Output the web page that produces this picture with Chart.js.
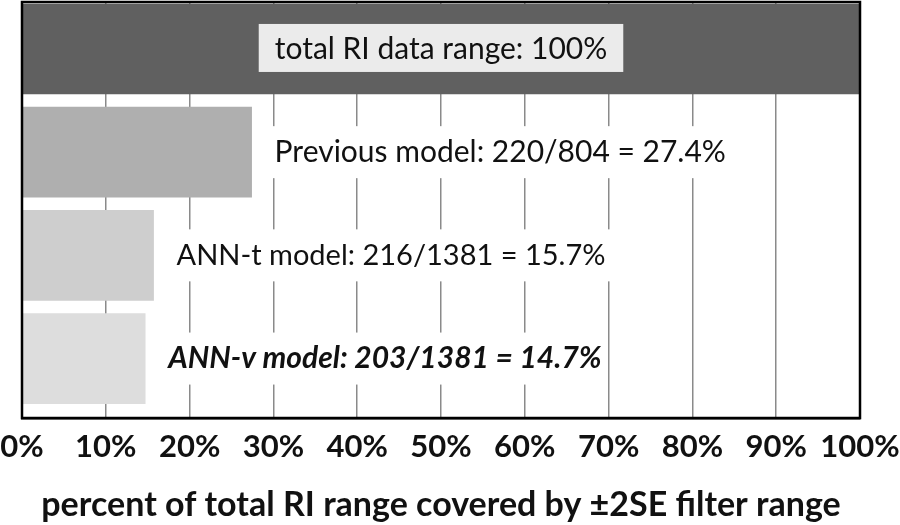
<!DOCTYPE html>
<html>
<head>
<meta charset="utf-8">
<script src="https://cdn.jsdelivr.net/npm/chart.js@4/dist/chart.umd.min.js"></script>
<style>
html,body{margin:0;padding:0;background:#fff;}
#wrap{width:900px;height:525px;position:relative;}
</style>
</head>
<body>
<div id="wrap"><canvas id="c" width="900" height="525"></canvas></div>
<script>
const categories = ['total RI data range', 'Previous model', 'ANN-t model', 'ANN-v model'];
const values = [100, 27.4, 15.7, 14.7];
const barLabels = ['total RI data range: 100%', 'Previous model: 220/804 = 27.4%', 'ANN-t model: 216/1381 = 15.7%', 'ANN-v model: 203/1381 = 14.7%'];
const xTickValues = [0, 10, 20, 30, 40, 50, 60, 70, 80, 90, 100];
const xTitle = 'percent of total RI range covered by \u00B12SE filter range';

const barColors = ['#606060', '#afafaf', '#cecece', '#dddddd'];
const labelFonts = ['30px', '30px', '29px', 'italic bold 30px'];
const FONT = 'Lato, "Open Sans", sans-serif';

const labelPlugin = {
  id: 'barLabels',
  afterDatasetsDraw(chart) {
    const ctx = chart.ctx;
    const meta = chart.getDatasetMeta(0);
    const xs = chart.scales.x;
    ctx.save();
    meta.data.forEach((bar, i) => {
      const cy = bar.y;
      ctx.font = labelFonts[i] + ' ' + FONT;
      const w = ctx.measureText(barLabels[i]).width;
      ctx.textBaseline = 'middle';
      if (i === 0) {
        const cx = (xs.getPixelForValue(0) + xs.getPixelForValue(values[0])) / 2;
        ctx.fillStyle = '#ebebeb';
        ctx.fillRect(cx - w / 2 - 16, cy - 25, w + 32, 48);
        ctx.fillStyle = '#111';
        ctx.textAlign = 'center';
        ctx.fillText(barLabels[i], cx, cy);
      } else {
        const x0 = xs.getPixelForValue(values[i]) + 23;
        ctx.fillStyle = '#fff';
        ctx.fillRect(x0 - 6, cy - 26, w + 12, 52);
        ctx.fillStyle = '#111';
        ctx.textAlign = 'left';
        ctx.fillText(barLabels[i], x0, cy);
      }
    });
    ctx.restore();
  },
  afterDraw(chart) {
    const {left, right, top, bottom} = chart.chartArea;
    const ctx = chart.ctx;
    ctx.save();
    ctx.strokeStyle = '#000';
    ctx.lineWidth = 2.5;
    ctx.strokeRect(left, top, right - left, bottom - top);
    ctx.restore();
  }
};

new Chart(document.getElementById('c'), {
  type: 'bar',
  data: {
    datasets: [{
      data: values.map((v, i) => ({x: v, y: i})),
      backgroundColor: barColors,
      borderWidth: 0,
      barThickness: 90
    }]
  },
  options: {
    indexAxis: 'y',
    responsive: false,
    animation: false,
    devicePixelRatio: 1,
    layout: {padding: {left: 22, right: 40, top: 2, bottom: 0}},
    plugins: {legend: {display: false}, tooltip: {enabled: false}},
    scales: {
      y: {
        type: 'linear',
        offset: false,
        min: -0.455,
        max: 3.576,
        reverse: true,
        display: false
      },
      x: {
        type: 'linear',
        min: 0,
        max: 100,
        afterBuildTicks(scale) { scale.ticks = xTickValues.map(v => ({value: v})); },
        afterFit(scale) { scale.height = 107; scale.paddingLeft = 0; scale.paddingRight = 0; },
        grid: {color: '#8a8a8a', lineWidth: 1.5, drawTicks: false},
        border: {display: true, color: '#000', width: 2.5},
        ticks: {
          padding: 10,
          color: '#111',
          font: {family: FONT, size: 31, weight: 'bold'},
          callback: v => v + '%',
          maxRotation: 0,
          autoSkip: false
        },
        title: {
          display: true,
          text: xTitle,
          color: '#111',
          font: {family: FONT, size: 34, weight: 'bold'},
          padding: {top: 4, bottom: 0}
        }
      }
    }
  },
  plugins: [labelPlugin]
});
</script>
</body>
</html>
